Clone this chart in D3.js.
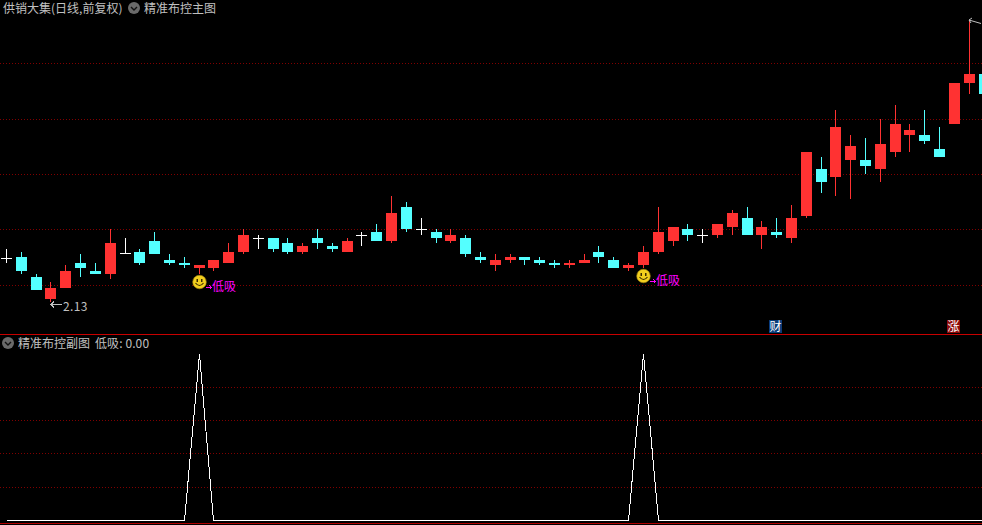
<!DOCTYPE html>
<html><head><meta charset="utf-8">
<style>html,body{margin:0;padding:0;background:#000;overflow:hidden}svg{display:block}
text{font-family:"Noto Sans CJK SC","Liberation Sans",sans-serif;font-size:12px}</style>
<script src="https://cdn.jsdelivr.net/npm/d3@7/dist/d3.min.js"></script>
</head><body><script>
const opens=[2.57,2.58,2.38,2.16,2.27,2.52,2.44,2.41,2.62,2.63,2.74,2.55,2.52,2.47,2.47,2.52,2.63,2.77,2.77,2.72,2.63,2.77,2.69,2.63,2.80,2.83,2.74,3.08,2.86,2.83,2.74,2.77,2.58,2.50,2.55,2.58,2.55,2.52,2.50,2.52,2.63,2.55,2.47,2.50,2.63,2.74,2.86,2.80,2.80,2.88,2.97,2.80,2.83,2.77,2.99,3.46,3.38,3.55,3.55,3.46,3.63,3.80,3.80,3.66,3.91,4.32,4.41];
const closes=[2.57,2.44,2.25,2.27,2.44,2.47,2.41,2.72,2.62,2.52,2.61,2.52,2.50,2.50,2.55,2.63,2.80,2.77,2.66,2.63,2.69,2.72,2.66,2.74,2.80,2.74,3.02,2.86,2.86,2.77,2.80,2.61,2.55,2.55,2.58,2.55,2.52,2.50,2.52,2.55,2.58,2.47,2.50,2.63,2.83,2.88,2.80,2.80,2.91,3.02,2.80,2.88,2.80,2.97,3.63,3.33,3.88,3.69,3.49,3.71,3.91,3.85,3.74,3.58,4.32,4.41,4.21];
const highs=[2.66,2.63,2.41,2.33,2.50,2.61,2.52,2.86,2.77,2.66,2.83,2.61,2.58,2.50,2.55,2.72,2.86,2.80,2.77,2.77,2.72,2.86,2.72,2.77,2.83,2.91,3.19,3.13,2.97,2.86,2.86,2.80,2.63,2.61,2.61,2.58,2.58,2.55,2.55,2.61,2.69,2.58,2.52,2.69,3.08,2.88,2.91,2.86,2.91,3.05,3.08,2.94,2.97,3.10,3.63,3.58,4.05,3.80,3.77,3.96,4.10,3.91,4.05,3.88,4.32,4.95,4.41];
const lows=[2.52,2.41,2.25,2.13,2.27,2.38,2.41,2.36,2.61,2.50,2.61,2.50,2.47,2.41,2.44,2.52,2.61,2.66,2.63,2.61,2.61,2.66,2.63,2.63,2.69,2.74,2.72,2.83,2.80,2.72,2.72,2.58,2.52,2.44,2.52,2.50,2.50,2.47,2.47,2.52,2.52,2.47,2.44,2.47,2.61,2.69,2.74,2.72,2.77,2.80,2.80,2.66,2.77,2.72,2.97,3.22,3.19,3.16,3.41,3.33,3.58,3.63,3.71,3.58,3.91,4.21,4.21];
const signal=[0,0,0,0,0,0,0,0,0,0,0,0,0,1,0,0,0,0,0,0,0,0,0,0,0,0,0,0,0,0,0,0,0,0,0,0,0,0,0,0,0,0,0,1,0,0,0,0,0,0,0,0,0,0,0,0,0,0,0,0,0,0,0,0,0,0,0];
const priceTicks=[4.52,3.96,3.41,2.86,2.30];
const signalTicks=[0.2,0.4,0.6,0.8];
const titleStock="供销大集(日线,前复权)";
const titleMain="精准布控主图";
const titleSub="精准布控副图";
const readout="低吸: 0.00";
const signalLabel="低吸";
const lowLabel="2.13";

const W=982,H=525;
const RED="#ff3232",CYAN="#54ffff",WHITE="#ffffff",TXT="#c0c0c0",GRID="#800000";
const svg=d3.select("body").append("svg").attr("width",W).attr("height",H).style("background","#000");
const x=d3.scaleLinear().domain([0,66]).range([6.55,984.01]);
const y=d3.scaleLinear().domain([5.15,0]).range([0,515]);
const ySub=d3.scaleLinear().domain([0,1]).range([520,353.5]);
const cx=i=>Math.floor(x(i));

function grid(scale,ticks){
  const g=svg.append("g").attr("shape-rendering","crispEdges");
  g.call(d3.axisRight(scale).tickValues(ticks).tickSize(W).tickFormat(""));
  g.select(".domain").remove();
  g.selectAll(".tick").attr("transform",t=>`translate(0,${Math.round(scale(t))+.5})`);
  g.selectAll("line").attr("stroke",GRID).attr("stroke-dasharray","1 2");
}
grid(y,priceTicks);
grid(ySub,signalTicks);

const idx=d3.range(opens.length);
const colorOf=i=>closes[i]>opens[i]?RED:closes[i]<opens[i]?CYAN:WHITE;
const c=svg.append("g").attr("shape-rendering","crispEdges");
c.selectAll("rect.w").data(idx).join("rect").attr("class","w")
  .attr("x",cx).attr("width",1)
  .attr("y",i=>y(highs[i])).attr("height",i=>y(lows[i])-y(highs[i]))
  .attr("fill",colorOf);
c.selectAll("rect.b").data(idx).join("rect").attr("class","b")
  .attr("x",i=>cx(i)-5).attr("width",11)
  .attr("y",i=>y(Math.max(opens[i],closes[i])))
  .attr("height",i=>Math.max(1,Math.abs(y(opens[i])-y(closes[i]))))
  .attr("fill",colorOf);

// dividers
const d=svg.append("g").attr("shape-rendering","crispEdges");
d.append("rect").attr("x",0).attr("y",334).attr("width",W).attr("height",1).attr("fill","#c80000");
d.append("rect").attr("x",0).attr("y",523).attr("width",W).attr("height",1).attr("fill","#b00000");

// sub line
svg.append("path").datum(idx)
  .attr("d",d3.line().x(i=>cx(i)+.5).y(i=>ySub(signal[i])+.5))
  .attr("fill","none").attr("stroke","#fff").attr("stroke-width",1).attr("shape-rendering","crispEdges");

// icons
function chevron(px,py){
  const g=svg.append("g").attr("transform",`translate(${px},${py})`);
  g.append("circle").attr("r",6).attr("fill","#6a6a6a");
  g.append("path").attr("d","M-3,-1L0,2L3,-1").attr("fill","none").attr("stroke","#111").attr("stroke-width",1.4);
}
function label(t,px,py,col){
  return svg.append("text").attr("x",px).attr("y",py).attr("fill",col||TXT).text(t);
}
label(titleStock,3,13);
chevron(134,8);
label(titleMain,144,13);
chevron(8,343);
label(titleSub,18,348);
label(readout,95,348).style("letter-spacing","0.1px");

// signal markers
idx.filter(i=>signal[i]===1).forEach(i=>{
  const px=cx(i),py=y(lows[i])+8;
  const g=svg.append("g").attr("transform",`translate(${px+.5},${py})`);
  g.append("circle").attr("r",6.8).attr("fill","#f2cf1e").attr("stroke","#a88a10").attr("stroke-width",.6);
  g.append("rect").attr("x",-3).attr("y",-3).attr("width",1.5).attr("height",3).attr("fill","#3a2c00");
  g.append("rect").attr("x",1.5).attr("y",-3).attr("width",1.5).attr("height",3).attr("fill","#3a2c00");
  g.append("path").attr("d","M-4,1Q0,6 4,1").attr("fill","none").attr("stroke","#3a2c00").attr("stroke-width",1.2);
  svg.append("path").attr("d",`M${px+7},${py+5.5}H${px+12.5}M${px+10.5},${py+3.5}L${px+12.5},${py+5.5}L${px+10.5},${py+7.5}`)
    .attr("fill","none").attr("stroke","#ff00ff").attr("stroke-width",1).attr("shape-rendering","crispEdges");
  svg.append("text").attr("x",px+13).attr("y",py+9).attr("fill","#ff00ff").text(signalLabel);
});

// low / high annotations
const iLow=lows.indexOf(d3.min(lows)), iHigh=highs.indexOf(d3.max(highs));
const lx=cx(iLow),ly=y(lows[iLow])+2.5;
svg.append("path").attr("d",`M${lx+1},${ly}H${lx+12}M${lx+4},${ly-3}L${lx+1},${ly}L${lx+4},${ly+3}`)
  .attr("fill","none").attr("stroke",TXT).attr("stroke-width",1).attr("shape-rendering","crispEdges");
svg.append("text").attr("x",lx+13).attr("y",ly+6.5).attr("fill",TXT).style("letter-spacing","0.4px").text(lowLabel);
const hx=cx(iHigh),hy=y(highs[iHigh]);
svg.append("path").attr("d",`M${hx},${hy}L${hx+12},${hy+3.5}M${hx+3},${hy-2}L${hx},${hy}L${hx+2},${hy+3}`)
  .attr("fill","none").attr("stroke",TXT).attr("stroke-width",1);

// badges
function badge(t,px,col){
  svg.append("rect").attr("x",px).attr("y",320).attr("width",13).attr("height",13).attr("fill",col);
  svg.append("text").attr("x",px+.5).attr("y",331).attr("fill","#fff").text(t);
}
badge("财",769,"#0a3c78");
badge("涨",947,"#8c0a0a");
</script></body></html>
